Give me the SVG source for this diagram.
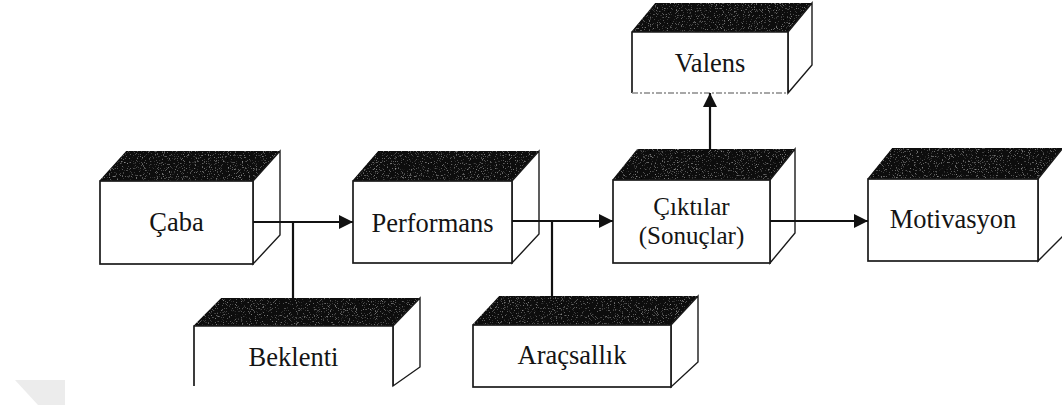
<svg xmlns="http://www.w3.org/2000/svg" width="1062" height="406" viewBox="0 0 1062 406">
  <style>
    .front { fill: #ffffff; stroke: #1a1a1a; stroke-width: 1.7; stroke-linejoin: miter; }
    .side { fill: #ffffff; stroke: #1a1a1a; stroke-width: 1.4; stroke-linejoin: miter; }
    .top { fill: #0a0a0a; stroke: #0a0a0a; stroke-width: 1.2; filter: url(#grain); }
    .label { font-family: "Liberation Serif", "Times New Roman", serif; font-size: 26.5px; fill: #141414; text-anchor: middle; }
    .label.two { font-size: 25px; }
    .link { fill: none; stroke: #111111; stroke-width: 2.2; }
  </style>
  <defs>
    <!-- speckled texture for the shaded top faces -->
    <filter id="grain" x="0" y="0" width="1" height="1">
      <feTurbulence type="fractalNoise" baseFrequency="0.85" numOctaves="2" seed="7" result="noise"/>
      <feColorMatrix in="noise" type="matrix" values="0 0 0 0 0.42  0 0 0 0 0.42  0 0 0 0 0.42  2.4 0 0 0 -1.45" result="dots"/>
      <feComposite in="dots" in2="SourceGraphic" operator="in" result="spots"/>
      <feMerge>
        <feMergeNode in="SourceGraphic"/>
        <feMergeNode in="spots"/>
      </feMerge>
    </filter>
    <marker id="arrow" markerUnits="userSpaceOnUse" markerWidth="15" markerHeight="15" viewBox="0 0 15 15" refX="14" refY="7.5" orient="auto">
      <path d="M0,0.5 L14,7.5 L0,14.5 Z" fill="#111111"/>
    </marker>
  </defs>

  <rect width="1062" height="406" fill="#ffffff"/>
  <polygon points="15,380 65,380 65,405 38,405" fill="#ececec"/>

  <!-- Çaba -->
  <g id="caba">
    <polygon class="top" points="100,181 127,151 280,151 253,181"/>
    <polygon class="side" points="253,181 280,151 280,235 253,264"/>
    <rect class="front" x="100" y="181" width="153" height="83"/>
    <text class="label" x="176.5" y="231">Çaba</text>
  </g>

  <!-- Performans -->
  <g id="performans">
    <polygon class="top" points="353,181 379,151 539,151 512,181"/>
    <polygon class="side" points="512,181 539,151 539,234 512,263"/>
    <rect class="front" x="353" y="181" width="159" height="82"/>
    <text class="label" x="432.5" y="232">Performans</text>
  </g>

  <!-- Çıktılar (Sonuçlar) -->
  <g id="ciktilar">
    <polygon class="top" points="613,180 638,149 795,149 770,180"/>
    <polygon class="side" points="770,180 795,149 795,233 770,263"/>
    <rect class="front" x="613" y="180" width="157" height="83"/>
    <text class="label two" x="691.5" y="215">Çıktılar</text>
    <text class="label two" x="691.5" y="244">(Sonuçlar)</text>
  </g>

  <!-- Valens -->
  <g id="valens">
    <polygon class="top" points="632,32 656,3 812,3 788,32"/>
    <polygon class="side" points="788,32 812,3 812,65 788,93"/>
    <path d="M632,93 L632,32 L788,32 L788,93" class="front"/>
    <line x1="632" y1="93" x2="788" y2="93" stroke="#8a8a8a" stroke-width="1.4" stroke-dasharray="6 2 2 2"/>
    <text class="label" x="710" y="72">Valens</text>
  </g>

  <!-- Motivasyon -->
  <g id="motivasyon">
    <polygon class="top" points="868,179 893,148 1063,148 1038,179"/>
    <polygon class="side" points="1038,179 1063,148 1063,236 1038,261"/>
    <rect class="front" x="868" y="179" width="170" height="82"/>
    <text class="label" x="953" y="228">Motivasyon</text>
  </g>

  <!-- Beklenti -->
  <g id="beklenti">
    <polygon class="top" points="194,326 222,298 420,298 393,326"/>
    <polygon class="side" points="393,326 420,298 420,367 393,386"/>
    <path class="front" d="M194,386 L194,326 L393,326 L393,386"/>
    <text class="label" x="293.5" y="366">Beklenti</text>
  </g>

  <!-- Araçsallık -->
  <g id="aracsallik">
    <polygon class="top" points="473,325 500,296 698,296 671,325"/>
    <polygon class="side" points="671,325 698,296 698,362 671,387"/>
    <rect class="front" x="473" y="325" width="198" height="62"/>
    <text class="label" x="572" y="364">Araçsallık</text>
  </g>

  <!-- connectors -->
  <g id="connectors">
    <line class="link" x1="253" y1="222" x2="353" y2="222" marker-end="url(#arrow)"/>
    <line class="link" x1="293" y1="222" x2="293" y2="298"/>
    <line class="link" x1="512" y1="221" x2="613" y2="221" marker-end="url(#arrow)"/>
    <line class="link" x1="552" y1="221" x2="552" y2="296"/>
    <line class="link" x1="710" y1="149" x2="710" y2="93" marker-end="url(#arrow)"/>
    <line class="link" x1="770" y1="221" x2="868" y2="221" marker-end="url(#arrow)"/>
  </g>
</svg>
